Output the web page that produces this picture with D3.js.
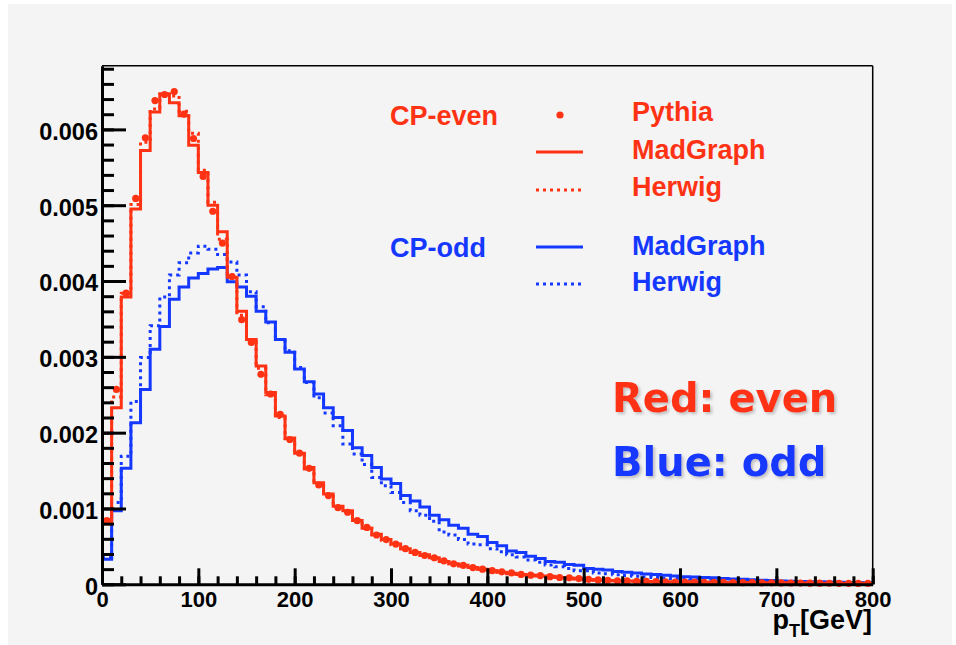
<!DOCTYPE html>
<html>
<head>
<meta charset="utf-8">
<script src="https://cdn.jsdelivr.net/npm/d3@7"></script>
<style>
  body { margin: 0; background: #fff; }
  svg { display: block; }
  text { font-family: "Liberation Sans", Arial, Helvetica, sans-serif; font-weight: bold; }
  text.note { font-family: "DejaVu Sans", sans-serif; font-weight: 700; }
</style>
</head>
<body>
<svg id="chart" width="956" height="645"></svg>
<script>
// bins are 10 GeV wide, 0..800
const binLow = d3.range(0, 800, 10)

// values are in units of 1e-3
const evenMadGraph = [0.80, 2.33, 3.79, 4.95, 5.72, 6.23, 6.47, 6.35, 6.18, 5.79,
    5.43, 5.00, 4.65, 4.05, 3.60, 3.23, 2.88, 2.53, 2.22, 1.93,
    1.73, 1.54, 1.34, 1.19, 1.03, 0.97, 0.84, 0.74, 0.66, 0.59,
    0.53, 0.47, 0.42, 0.39, 0.35, 0.30, 0.27, 0.25, 0.22, 0.20,
    0.18, 0.16, 0.145, 0.13, 0.12, 0.11, 0.105, 0.09, 0.08, 0.07,
    0.06, 0.055, 0.05, 0.046, 0.043, 0.04, 0.037, 0.035, 0.033, 0.031,
    0.029, 0.028, 0.027, 0.026, 0.025, 0.024, 0.023, 0.022, 0.021, 0.02,
    0.019, 0.018, 0.017, 0.016, 0.015, 0.014, 0.014, 0.013, 0.013, 0.012]

const evenPythia = [0.84, 2.57, 3.84, 5.09, 5.89, 6.38, 6.46, 6.50, 6.20, 5.88,
    5.38, 4.92, 4.50, 4.06, 3.49, 3.19, 2.77, 2.51, 2.24, 1.91,
    1.73, 1.53, 1.31, 1.17, 1.01, 0.95, 0.84, 0.75, 0.65, 0.59,
    0.53, 0.47, 0.42, 0.38, 0.35, 0.31, 0.27, 0.25, 0.22, 0.20,
    0.18, 0.165, 0.15, 0.13, 0.12, 0.115, 0.10, 0.09, 0.085, 0.075,
    0.065, 0.058, 0.052, 0.047, 0.044, 0.04, 0.038, 0.035, 0.032, 0.03,
    0.029, 0.028, 0.027, 0.026, 0.025, 0.023, 0.022, 0.021, 0.02, 0.019,
    0.018, 0.017, 0.016, 0.015, 0.015, 0.014, 0.013, 0.013, 0.012, 0.011]

const evenHerwig = [0.85, 2.47, 3.84, 5.01, 5.83, 6.27, 6.46, 6.44, 6.24, 5.95,
    5.46, 5.04, 4.55, 4.08, 3.55, 3.20, 2.85, 2.50, 2.20, 1.92,
    1.72, 1.52, 1.33, 1.18, 1.02, 0.96, 0.83, 0.74, 0.65, 0.58,
    0.52, 0.47, 0.42, 0.38, 0.34, 0.30, 0.27, 0.24, 0.22, 0.20,
    0.18, 0.16, 0.14, 0.13, 0.12, 0.11, 0.10, 0.09, 0.08, 0.07,
    0.062, 0.055, 0.05, 0.046, 0.042, 0.04, 0.037, 0.034, 0.032, 0.03,
    0.029, 0.028, 0.027, 0.026, 0.024, 0.023, 0.022, 0.021, 0.02, 0.019,
    0.018, 0.017, 0.016, 0.015, 0.015, 0.014, 0.013, 0.013, 0.012, 0.012]

const oddMadGraph = [0.33, 0.97, 1.53, 2.13, 2.57, 3.10, 3.40, 3.76, 3.92, 4.04,
    4.10, 4.16, 4.18, 3.99, 3.92, 3.80, 3.60, 3.46, 3.23, 3.06,
    2.84, 2.67, 2.51, 2.33, 2.20, 2.03, 1.80, 1.70, 1.54, 1.39,
    1.33, 1.17, 1.10, 1.02, 0.91, 0.85, 0.78, 0.74, 0.66, 0.63,
    0.55, 0.51, 0.44, 0.42, 0.37, 0.34, 0.30, 0.29, 0.26, 0.25,
    0.21, 0.20, 0.19, 0.17, 0.16, 0.15, 0.135, 0.13, 0.12, 0.11,
    0.10, 0.095, 0.09, 0.085, 0.075, 0.07, 0.065, 0.06, 0.055, 0.05,
    0.045, 0.04, 0.037, 0.035, 0.032, 0.03, 0.027, 0.025, 0.022, 0.02]

const oddHerwig = [0.35, 1.08, 1.69, 2.41, 2.99, 3.41, 3.79, 4.08, 4.24, 4.37,
    4.46, 4.42, 4.35, 4.25, 4.08, 3.86, 3.66, 3.45, 3.23, 3.08,
    2.86, 2.66, 2.46, 2.26, 2.09, 1.85, 1.72, 1.58, 1.41, 1.30,
    1.21, 1.08, 0.97, 0.91, 0.83, 0.69, 0.65, 0.59, 0.53, 0.52,
    0.47, 0.43, 0.39, 0.36, 0.32, 0.29, 0.255, 0.23, 0.21, 0.18,
    0.18, 0.15, 0.14, 0.125, 0.115, 0.105, 0.095, 0.09, 0.08, 0.075,
    0.07, 0.065, 0.06, 0.055, 0.05, 0.047, 0.043, 0.04, 0.037, 0.034,
    0.031, 0.029, 0.027, 0.025, 0.023, 0.021, 0.02, 0.018, 0.017, 0.015]

const yMajorTicks = [0, 0.001, 0.002, 0.003, 0.004, 0.005, 0.006]
const xMajorTicks = [0, 100, 200, 300, 400, 500, 600, 700, 800]

const RED = "#ff3314"
const BLUE = "#1438ff"

let svg = d3.select("#chart")

// pad background
svg.append("rect").attr("x", 8).attr("y", 4).attr("width", 944).attr("height", 641).attr("fill", "#f4f4f4")

let x = d3.scaleLinear().domain([0, 800]).range([102, 872.7])
let y = d3.scaleLinear().domain([0, 0.00684]).range([584.3, 65.7])

const toSteps = vals => {
    let pts = binLow.map((b, i) => [b, vals[i] * 1e-3])
    pts.push([800, vals[vals.length - 1] * 1e-3])
    return pts
}

let stepLine = d3.line()
    .x(d => x(d[0]))
    .y(d => y(d[1]))
    .curve(d3.curveStepAfter)

let plot = svg.append("g")

const drawHist = (vals, color, dotted) => {
    plot.append("path")
        .datum(toSteps(vals))
        .attr("d", stepLine)
        .attr("fill", "none")
        .attr("stroke", color)
        .attr("stroke-width", 3)
        .attr("stroke-dasharray", dotted ? "3,4" : null)
}

drawHist(oddHerwig, BLUE, true)
drawHist(oddMadGraph, BLUE, false)
drawHist(evenHerwig, RED, true)
drawHist(evenMadGraph, RED, false)

plot.selectAll("circle.pythia")
    .data(evenPythia)
    .enter()
    .append("circle")
    .attr("class", "pythia")
    .attr("cx", (d, i) => x(binLow[i] + 5))
    .attr("cy", d => y(d * 1e-3))
    .attr("r", 3.6)
    .attr("fill", RED)

// frame top / right
svg.append("line").attr("x1", 102).attr("x2", 872.7).attr("y1", 65.7).attr("y2", 65.7)
    .attr("stroke", "#000").attr("stroke-width", 1.5)
svg.append("line").attr("x1", 872.7).attr("x2", 872.7).attr("y1", 65.7).attr("y2", 584.3)
    .attr("stroke", "#000").attr("stroke-width", 1.5)

// axes
const styleAxis = size => g => {
    g.selectAll("path.domain").attr("stroke-width", 3)
    g.selectAll(".tick line").attr("stroke-width", 3)
    g.selectAll("text").attr("font-size", size).attr("fill", "#000")
        .style("font-family", '"Liberation Sans", Arial, sans-serif').style("font-weight", "bold")
}

let yMinor = svg.append("g").attr("transform", "translate(102,0)")
    .call(d3.axisLeft(y).tickValues(d3.range(0, 0.0069, 0.0002)).tickSize(-12).tickFormat(""))
yMinor.selectAll(".tick line").attr("stroke-width", 3)
yMinor.select("path.domain").remove()

let xMinor = svg.append("g").attr("transform", "translate(0,584.3)")
    .call(d3.axisBottom(x).tickValues(d3.range(0, 801, 20)).tickSize(-8).tickFormat(""))
xMinor.selectAll(".tick line").attr("stroke-width", 3)
xMinor.select("path.domain").remove()

svg.append("g").attr("transform", "translate(102,0)")
    .call(d3.axisLeft(y).tickValues(yMajorTicks).tickSize(-24).tickSizeOuter(0).tickPadding(4)
        .tickFormat(d => d === 0 ? "0" : d3.format(".3f")(d)))
    .call(styleAxis(23.5))
    .call(g => g.selectAll("text").attr("dy", "0.42em"))

svg.append("g").attr("transform", "translate(0,584.3)")
    .call(d3.axisBottom(x).tickValues(xMajorTicks).tickSize(-16).tickSizeOuter(0).tickPadding(7))
    .call(styleAxis(22))

// x title
let xt = svg.append("text").attr("x", 872).attr("y", 629).attr("text-anchor", "end")
    .attr("font-size", 27).attr("fill", "#000")
xt.append("tspan").text("p")
xt.append("tspan").attr("font-size", 18).attr("dy", 8).text("T")
xt.append("tspan").attr("dy", -8).text("[GeV]")

// legend
const legendText = [
    {t: "CP-even", x: 390, y: 125, c: RED},
    {t: "Pythia", x: 632, y: 121, c: RED},
    {t: "MadGraph", x: 632, y: 159, c: RED},
    {t: "Herwig", x: 632, y: 196, c: RED},
    {t: "CP-odd", x: 390, y: 257, c: BLUE},
    {t: "MadGraph", x: 632, y: 255, c: BLUE},
    {t: "Herwig", x: 632, y: 291, c: BLUE}
]
svg.selectAll("text.leg").data(legendText).enter().append("text")
    .attr("class", "leg")
    .attr("x", d => d.x).attr("y", d => d.y)
    .attr("font-size", 27).attr("fill", d => d.c)
    .text(d => d.t)

svg.append("circle").attr("cx", 560).attr("cy", 115).attr("r", 3.6).attr("fill", RED)
const legendLines = [
    {y: 152, c: RED, dotted: false},
    {y: 190, c: RED, dotted: true},
    {y: 247, c: BLUE, dotted: false},
    {y: 284, c: BLUE, dotted: true}
]
svg.selectAll("line.leg").data(legendLines).enter().append("line")
    .attr("class", "leg")
    .attr("x1", 536).attr("x2", 583)
    .attr("y1", d => d.y).attr("y2", d => d.y)
    .attr("stroke", d => d.c).attr("stroke-width", 3)
    .attr("stroke-dasharray", d => d.dotted ? "3,4" : null)

// big annotation
let defs = svg.append("defs")
defs.append("filter").attr("id", "shadow")
    .attr("x", "-10%").attr("y", "-20%").attr("width", "130%").attr("height", "150%")
    .append("feDropShadow")
    .attr("dx", 2).attr("dy", 2).attr("stdDeviation", 1.5)
    .attr("flood-color", "#888").attr("flood-opacity", 0.5)

const notes = [
    {t: "Red: even", y: 412, c: RED},
    {t: "Blue: odd", y: 476, c: BLUE}
]
svg.selectAll("text.note").data(notes).enter().append("text")
    .attr("class", "note")
    .attr("x", 612).attr("y", d => d.y)
    .attr("font-size", 40).attr("fill", d => d.c)
    .attr("filter", "url(#shadow)")
    .text(d => d.t)
</script>
</body>
</html>
